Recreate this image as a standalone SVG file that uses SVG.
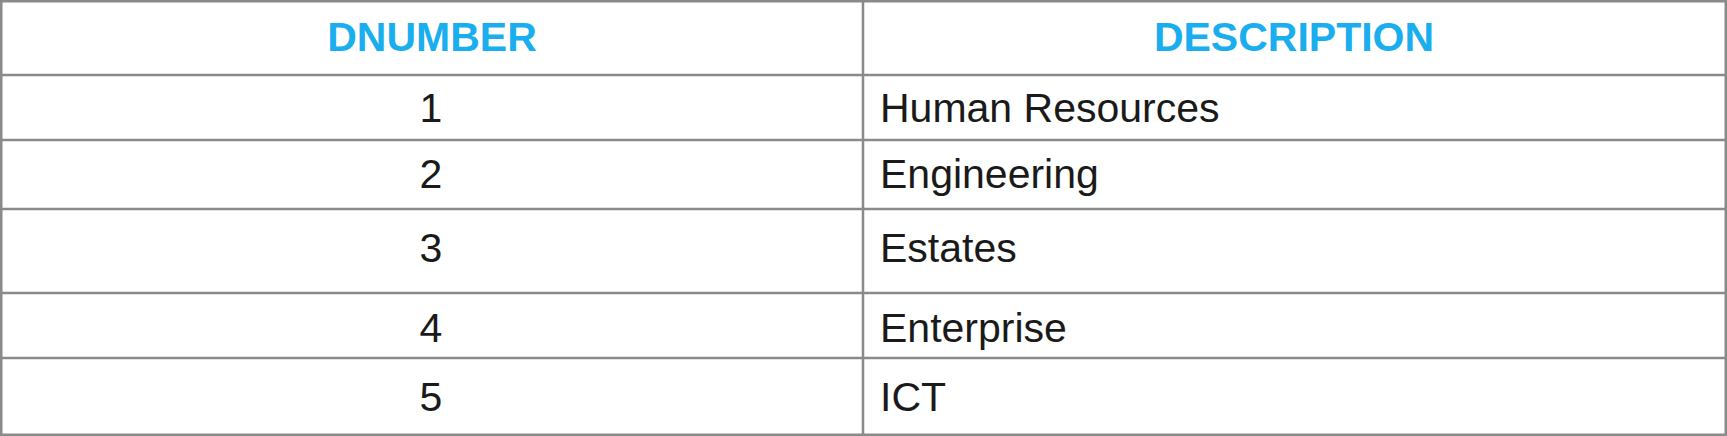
<svg xmlns="http://www.w3.org/2000/svg" width="1727" height="436" viewBox="0 0 1727 436">
<style>
.grid{stroke:#8a8a8a;stroke-width:2.5;fill:none}
.hd{font-family:"Liberation Sans",Arial,sans-serif;font-weight:bold;font-size:41px;fill:#1aaeee;text-anchor:middle}
.num{font-family:"Liberation Sans",Arial,sans-serif;font-size:41px;fill:#1a1a1a;text-anchor:middle}
.desc{font-family:"Liberation Sans",Arial,sans-serif;font-size:41px;fill:#1a1a1a}
</style>
<rect x="0" y="0" width="1727" height="436" fill="#ffffff"/>
<g id="grid">
<rect class="grid" x="1.25" y="1.25" width="1724.5" height="433.5"/>
<line class="grid" x1="863" y1="0" x2="863" y2="436"/>
<line class="grid" x1="0" y1="75" x2="1727" y2="75"/>
<line class="grid" x1="0" y1="140" x2="1727" y2="140"/>
<line class="grid" x1="0" y1="209" x2="1727" y2="209"/>
<line class="grid" x1="0" y1="293" x2="1727" y2="293"/>
<line class="grid" x1="0" y1="358" x2="1727" y2="358"/>
</g>
<g id="header">
<text class="hd" x="432" y="51">DNUMBER</text>
<text class="hd" x="1294" y="51">DESCRIPTION</text>
</g>
<g id="row1">
<text class="num" x="431" y="122">1</text>
<text class="desc" x="880" y="122">Human Resources</text>
</g>
<g id="row2">
<text class="num" x="431" y="188">2</text>
<text class="desc" x="880" y="188">Engineering</text>
</g>
<g id="row3">
<text class="num" x="431" y="262">3</text>
<text class="desc" x="880" y="262">Estates</text>
</g>
<g id="row4">
<text class="num" x="431" y="342">4</text>
<text class="desc" x="880" y="342">Enterprise</text>
</g>
<g id="row5">
<text class="num" x="431" y="411">5</text>
<text class="desc" x="880" y="411">ICT</text>
</g>
</svg>
